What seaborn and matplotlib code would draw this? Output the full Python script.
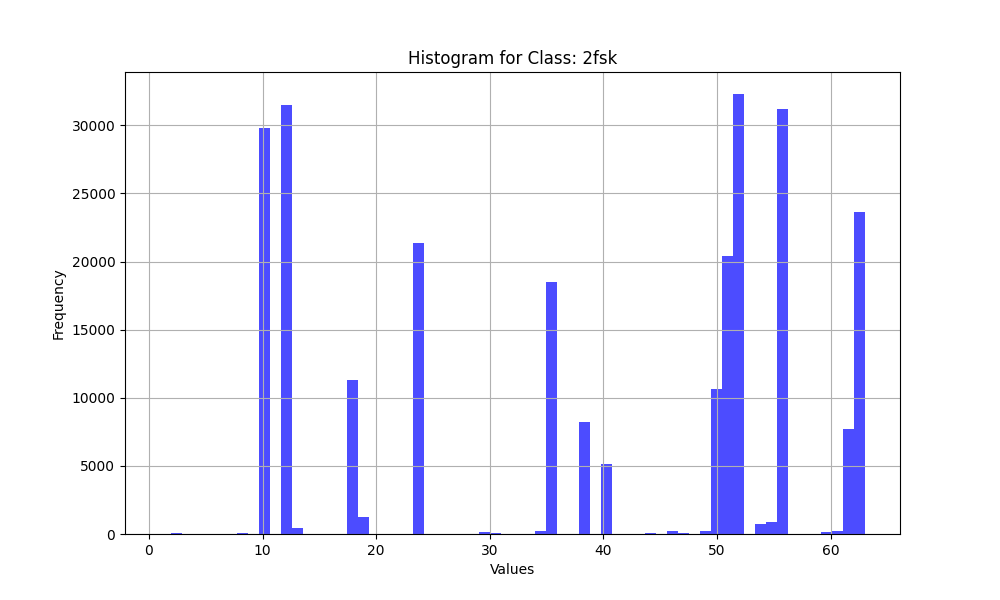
import numpy as np
import pandas as pd
import matplotlib
matplotlib.use("Agg")
import matplotlib.pyplot as plt
import seaborn as sns

# values seen in the histogram and their (read-off) frequencies
values = [2, 8, 10, 12, 13, 18, 19, 24, 30, 31, 34, 35, 38, 40, 44, 46, 47,
          49, 50, 51, 52, 54, 55, 56, 60, 61, 62, 63]
counts = [70, 70, 29780, 31470, 440, 11270, 1250, 21340, 150, 70, 220, 18480,
          8190, 5170, 70, 220, 70, 220, 10680, 20390, 32300, 730, 880, 31200,
          150, 220, 7680, 23610]

df = pd.DataFrame({"value": values, "count": counts})

fig, ax = plt.subplots(figsize=(10, 6), dpi=100)

sns.histplot(
    data=df,
    x="value",
    weights="count",
    bins=64,
    binrange=(1, 63),
    color="blue",
    alpha=0.7,
    linewidth=0,
    ax=ax
)

ax.set_title("Histogram for Class: 2fsk")
ax.set_xlabel("Values")
ax.set_ylabel("Frequency")
ax.grid(True)

fig.savefig("out.png")
